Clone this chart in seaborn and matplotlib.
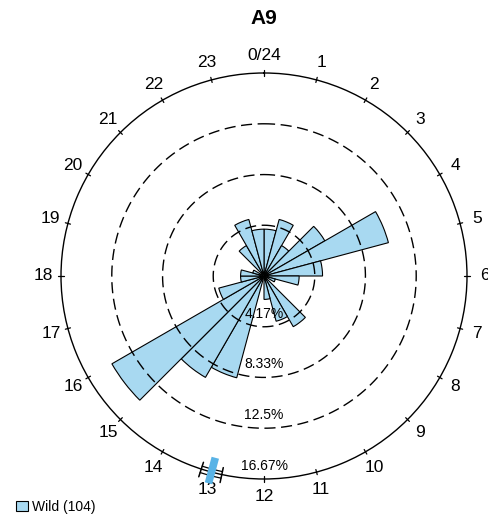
import numpy as np
import matplotlib
matplotlib.use("Agg")
import matplotlib.pyplot as plt
from matplotlib.patches import Patch
import seaborn as sns

# Hourly activity counts (hour bins 0-1, 1-2, ..., 23-24)
hours = list(range(24))
counts = [4, 5, 3, 6, 11, 5, 3, 1, 0, 5, 4, 2,
          0, 9, 10, 15, 4, 2, 2, 1, 0, 3, 5, 4]
group_label = "Wild"
n_total = 104

# Ring levels (percent of records) and hour labels
ring_levels = [4.17, 8.33, 12.5, 16.67]
ring_labels = ["4.17%", "8.33%", "12.5%", "16.67%"]
hour_labels = ["0/24"] + [str(h) for h in range(1, 24)]

# Mean direction (hours) and its confidence interval
mean_hour = 13.0
ci_hours = [12.8, 13.2]

sns.set_theme(style="white")
plt.rcParams["font.family"] = ["Liberation Sans", "DejaVu Sans"]
plt.rcParams["text.color"] = "black"

fill = "#A8D9F1"
mean_color = "#59B3E6"

pct = np.array(counts) / n_total * 100
rmax = ring_levels[-1]
to_theta = lambda h: np.asarray(h) / 24 * 2 * np.pi

fig = plt.figure(figsize=(4.89, 5.18), dpi=100)
ax = fig.add_axes([61 / 489, 39 / 518, 406 / 489, 406 / 518], projection="polar")
ax.set_theta_zero_location("N")
ax.set_theta_direction(-1)
ax.set_ylim(0, rmax)
ax.grid(False)
ax.set_xticks([])
ax.set_yticks([])
ax.spines["polar"].set_linewidth(1.0)
ax.spines["polar"].set_color("black")

# Rose bars
ax.bar(to_theta(hours), pct, width=2 * np.pi / 24, align="edge",
       color=fill, edgecolor="black", linewidth=0.8, zorder=2)

# Dashed reference rings and their labels
full = np.linspace(0, 2 * np.pi, 400)
for lvl in ring_levels[:-1]:
    ax.plot(full, np.full_like(full, lvl), color="black", lw=1.0,
            dashes=(8, 4), zorder=3)
for lvl, lab in zip(ring_levels, ring_labels):
    ax.text(np.pi, lvl - 0.065 * rmax, lab, ha="center", va="center",
            fontsize=10, color="black", zorder=4)

# Hour ticks and labels around the rim
for h, lab in zip(hours, hour_labels):
    t = to_theta(h)
    ax.plot([t, t], [rmax * 0.987, rmax * 1.013], color="black", lw=0.9,
            clip_on=False, zorder=3)
    ax.text(t, rmax * 1.087, lab, ha="center", va="center", fontsize=12.5,
            color="black")

# Mean direction with confidence interval
ci_t = to_theta(np.linspace(ci_hours[0], ci_hours[1], 30))
for rr in (0.985, 1.018):
    ax.plot(ci_t, np.full_like(ci_t, rmax * rr), color="black", lw=0.9,
            clip_on=False, zorder=4)
for ch in ci_hours:
    t = to_theta(ch)
    ax.plot([t, t], [rmax * 0.965, rmax * 1.04], color="black", lw=1.1,
            clip_on=False, zorder=4)
tm = to_theta(mean_hour)
ax.plot([tm, tm], [rmax * 0.927, rmax * 1.057], color=mean_color, lw=5.5,
        solid_capstyle="butt", clip_on=False, zorder=5)

fig.text(264 / 489, 1 - 18 / 518, "A9", ha="center", va="center",
         fontsize=15, fontweight="bold", color="black")

handle = Patch(facecolor=fill, edgecolor="black", linewidth=0.8)
leg = fig.legend([handle], [f"{group_label} ({n_total})"], loc="lower left",
                 bbox_to_anchor=(0.015, -0.008), frameon=False, fontsize=10,
                 handlelength=0.9, handleheight=0.7, handletextpad=0.3,
                 borderaxespad=0.2)
for txt in leg.get_texts():
    txt.set_color("black")

fig.savefig("out.png", dpi=100)
